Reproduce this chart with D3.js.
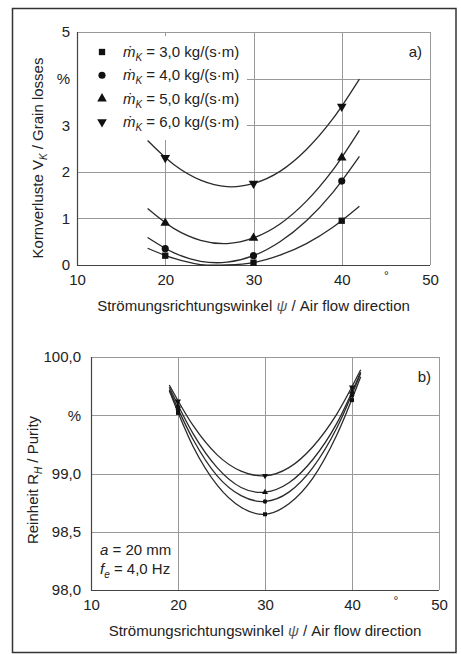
<!DOCTYPE html>
<html>
<head>
<meta charset="utf-8">
<script src="https://cdn.jsdelivr.net/npm/d3@7"></script>
<style>
  body { margin: 0; background: #fff; }
  svg text { font-family: "Liberation Sans", Arial, Helvetica, sans-serif; fill: #222; }
</style>
</head>
<body>
<div id="chart"></div>
<script>
"use strict";

// ---- data ----
var series = ["3,0", "4,0", "5,0", "6,0"];
var angles = [20, 30, 40];

// a) grain losses in %
var lossSquare = [0.2, 0.05, 0.95];
var lossCircle = [0.35, 0.2, 1.8];
var lossTriUp = [0.9, 0.58, 2.3];
var lossTriDown = [2.3, 1.75, 3.4];

// fitted curves of a), sampled at curveAnglesA
var curveAnglesA = [18, 21, 24, 27, 30, 33, 36, 39, 42];
var fitSquare = [0.36, 0.14, 0.01, 0.0, 0.05, 0.21, 0.46, 0.81, 1.26];
var fitCircle = [0.59, 0.26, 0.08, 0.06, 0.20, 0.50, 0.95, 1.56, 2.33];
var fitTriUp = [1.21, 0.78, 0.53, 0.46, 0.58, 0.88, 1.37, 2.04, 2.89];
var fitTriDown = [2.67, 2.15, 1.82, 1.68, 1.75, 2.01, 2.48, 3.14, 3.99];

// b) purity in %
var puritySquare = [99.52, 98.65, 99.63];
var purityCircle = [99.55, 98.76, 99.67];
var purityTriUp = [99.58, 98.84, 99.70];
var purityTriDown = [99.62, 98.98, 99.74];

// fitted curves of b), sampled at curveAnglesB
var curveAnglesB = [19, 21.75, 24.5, 27.25, 30, 32.75, 35.5, 38.25, 41];
var fitPSquare = [99.71, 99.23, 98.90, 98.71, 98.65, 98.74, 98.96, 99.33, 99.83];
var fitPCircle = [99.72, 99.29, 98.98, 98.81, 98.76, 98.84, 99.05, 99.39, 99.86];
var fitPTriUp = [99.74, 99.34, 99.05, 98.88, 98.84, 98.92, 99.12, 99.43, 99.87];
var fitPTriDown = [99.76, 99.41, 99.16, 99.02, 98.98, 99.05, 99.23, 99.51, 99.89];

var xTicks = [10, 20, 30, 40, 45, 50];
var xTickLabels = ["10", "20", "30", "40", "°", "50"];
var yTicksA = [0, 1, 2, 3, 4, 5];
var yTickLabelsA = ["0", "1", "2", "3", "%", "5"];
var yTicksB = [98, 98.5, 99, 99.5, 100];
var yTickLabelsB = ["98,0", "98,5", "99,0", "%", "100,0"];

var width = 461, height = 654;

var svg = d3.select("#chart")
            .append("svg")
            .attr("width", width)
            .attr("height", height);

// outer frame
svg.append("rect")
   .attr("x", 12.5).attr("y", 8.5)
   .attr("width", 443.5).attr("height", 644)
   .attr("fill", "none")
   .attr("stroke", "#333")
   .attr("stroke-width", 1.5);

var symbols = [
  d3.symbol().type(d3.symbolSquare),
  d3.symbol().type(d3.symbolCircle),
  d3.symbol().type(d3.symbolTriangle),
  d3.symbol().type(d3.symbolTriangle)
];
var rotations = [0, 0, 0, 180];

function drawPanel(opt) {
  var x = d3.scaleLinear().domain([10, 50]).range([opt.left, opt.right]);
  var y = d3.scaleLinear().domain(opt.yDomain).range([opt.bottom, opt.top]);
  var g = svg.append("g");

  // grid
  g.selectAll("line.vgrid")
   .data([20, 30, 40, 50])
   .enter().append("line")
   .attr("x1", function(d){ return Math.round(x(d)) + 0.5; })
   .attr("x2", function(d){ return Math.round(x(d)) + 0.5; })
   .attr("y1", y(opt.yDomain[1])).attr("y2", y(opt.yDomain[0]))
   .attr("stroke", "#999").attr("stroke-width", 1);

  g.selectAll("line.hgrid")
   .data(opt.yTicks.slice(1))
   .enter().append("line")
   .attr("x1", x(10)).attr("x2", x(50))
   .attr("y1", function(d){ return Math.round(y(d)) + 0.5; })
   .attr("y2", function(d){ return Math.round(y(d)) + 0.5; })
   .attr("stroke", "#999").attr("stroke-width", 1);

  if (opt.legend) opt.legend(g, x, y);

  // axes
  var xAxis = d3.axisBottom(x)
                .tickValues(xTicks)
                .tickSize(0)
                .tickPadding(9)
                .tickFormat(function(d, i){ return xTickLabels[i]; });
  var gx = g.append("g")
            .attr("transform", "translate(0," + opt.bottom + ")")
            .call(xAxis);
  gx.select(".domain").remove();
  gx.selectAll("text")
    .attr("font-size", 15)
    .attr("fill", "#222")
    .attr("font-family", null);
  gx.selectAll(".tick").filter(function(d){ return d == 45; }).select("text")
    .attr("font-size", 12).attr("dy", "0.5em").attr("fill", "#555");

  var yAxis = d3.axisLeft(y)
                .tickValues(opt.yTicks)
                .tickSize(0)
                .tickPadding(opt.yPad)
                .tickFormat(function(d, i){ return opt.yLabels[i]; });
  var gy = g.append("g")
            .attr("transform", "translate(" + opt.left + ",0)")
            .call(yAxis);
  gy.select(".domain").remove();
  gy.selectAll("text")
    .attr("font-size", 15)
    .attr("fill", "#222")
    .attr("font-family", null);

  // axis lines
  g.append("line")
   .attr("x1", opt.left + 0.5).attr("x2", opt.left + 0.5)
   .attr("y1", opt.top).attr("y2", opt.bottom + 0.5)
   .attr("stroke", "#444").attr("stroke-width", 1.2);
  g.append("line")
   .attr("x1", opt.left).attr("x2", opt.right)
   .attr("y1", opt.bottom + 0.5).attr("y2", opt.bottom + 0.5)
   .attr("stroke", "#444").attr("stroke-width", 1.2);

  // fitted curves
  var line = d3.line()
               .x(function(d){ return x(d[0]); })
               .y(function(d){ return y(d[1]); })
               .curve(d3.curveCardinal.tension(0));
  opt.fits.forEach(function(fit){
    g.append("path")
     .datum(opt.curveX.map(function(a, i){ return [a, fit[i]]; }))
     .attr("d", line)
     .attr("fill", "none")
     .attr("stroke", "#2a2a2a")
     .attr("stroke-width", 1.3);
  });

  // measured points
  opt.points.forEach(function(vals, s){
    g.selectAll("path.pt" + s)
     .data(angles.map(function(a, i){ return [a, vals[i]]; }))
     .enter().append("path")
     .attr("d", symbols[s].size(opt.markerSize))
     .attr("transform", function(d){
       return "translate(" + x(d[0]) + "," + y(d[1]) + ") rotate(" + rotations[s] + ")";
     })
     .attr("fill", "#111");
  });

  // axis titles
  var xt = g.append("text")
            .attr("x", (opt.left + opt.right) / 2)
            .attr("y", opt.bottom + 46)
            .attr("text-anchor", "middle")
            .attr("font-size", 15);
  xt.append("tspan").text("Strömungsrichtungswinkel ");
  xt.append("tspan").attr("font-style", "italic").attr("fill", "#555").text("ψ");
  xt.append("tspan").text(" / Air flow direction");

  var yt = g.append("text")
            .attr("transform", "translate(" + opt.yTitleX + "," + opt.yTitleY + ") rotate(-90)")
            .attr("text-anchor", "middle")
            .attr("dy", "0.35em")
            .attr("font-size", 15);
  yt.append("tspan").text(opt.yTitle[0] + " ");
  yt.append("tspan").text(opt.yTitle[1]);
  yt.append("tspan").attr("font-size", 10).attr("font-style", "italic").attr("dy", 4).text(opt.yTitle[2]);
  yt.append("tspan").attr("dy", -4).text(" / " + opt.yTitle[3]);

  g.append("text")
   .attr("x", opt.right - 8).attr("y", opt.tagY)
   .attr("text-anchor", "end")
   .attr("font-size", 15)
   .text(opt.tag);

  return {x: x, y: y, g: g};
}

// legend for panel a)
function legendA(g, x, y) {
  g.append("rect")
   .attr("x", x(10) + 1).attr("y", y(5) + 4)
   .attr("width", 169).attr("height", 104)
   .attr("fill", "#fff");
  series.forEach(function(s, i){
    var ly = 52 + i * 23.3;
    g.append("path")
     .attr("d", symbols[i].size(40))
     .attr("transform", "translate(102," + ly + ") rotate(" + rotations[i] + ")")
     .attr("fill", "#111");
    var t = g.append("text")
             .attr("x", 123).attr("y", ly + 5)
             .attr("font-size", 15);
    t.append("tspan").attr("font-style", "italic").text("ṁ");
    t.append("tspan").attr("font-style", "italic").attr("font-size", 10).attr("dy", 4).text("K");
    t.append("tspan").attr("dy", -4).text(" = " + s + " kg/(s·m)");
  });
}

drawPanel({
  left: 77, right: 430, top: 32, bottom: 265,
  yDomain: [0, 5], yTicks: yTicksA, yLabels: yTickLabelsA, yPad: 7,
  curveX: curveAnglesA,
  fits: [fitSquare, fitCircle, fitTriUp, fitTriDown],
  points: [lossSquare, lossCircle, lossTriUp, lossTriDown],
  markerSize: 40,
  yTitle: ["Kornverluste", "V", "K", "Grain losses"],
  yTitleX: 38, yTitleY: 158,
  tag: "a)", tagY: 57,
  legend: legendA
});

var pB = drawPanel({
  left: 91, right: 439, top: 357, bottom: 590,
  yDomain: [98, 100], yTicks: yTicksB, yLabels: yTickLabelsB, yPad: 10,
  curveX: curveAnglesB,
  fits: [fitPSquare, fitPCircle, fitPTriUp, fitPTriDown],
  points: [puritySquare, purityCircle, purityTriUp, purityTriDown],
  markerSize: 16,
  yTitle: ["Reinheit", "R", "H", "Purity"],
  yTitleX: 33, yTitleY: 480,
  tag: "b)", tagY: 382
});

// settings note in panel b)
var n1 = pB.g.append("text").attr("x", 100).attr("y", 555).attr("font-size", 15);
n1.append("tspan").attr("font-style", "italic").text("a");
n1.append("tspan").text(" = 20 mm");
var n2 = pB.g.append("text").attr("x", 100).attr("y", 574).attr("font-size", 15);
n2.append("tspan").attr("font-style", "italic").text("f");
n2.append("tspan").attr("font-style", "italic").attr("font-size", 10).attr("dy", 4).text("e");
n2.append("tspan").attr("dy", -4).text(" = 4,0 Hz");
</script>
</body>
</html>
